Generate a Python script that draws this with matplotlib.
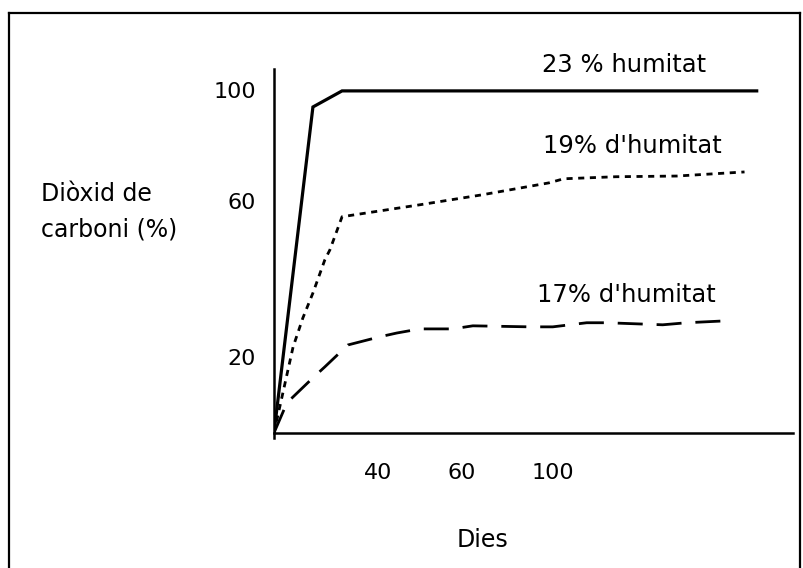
"""Dioxid de carboni vs dies, three humidity curves (hand-drawn style chart)."""
import matplotlib.pyplot as plt
from matplotlib.lines import Line2D

plt.rcParams.update({"font.family": "DejaVu Sans", "font.size": 17})

# ---------------------------------------------------------------------------
# Data (axis units follow the drawing, not a true scale)
# ---------------------------------------------------------------------------
x_23 = [0, 14.7, 25.7, 182.3]
y_23 = [0, 95.3, 100, 100]

x_19 = [0, 7.2, 10.9, 14.7, 19.2, 21.1, 25.7, 37.4, 55.1, 78.5, 103.8,
        109.4, 129.1, 152.1, 177.7]
y_19 = [0, 25.1, 33.6, 40.9, 50.6, 53.5, 63.2, 64.6, 66.7, 69.6, 73.1,
        74.3, 74.9, 75.1, 76.3]

x_17 = [0, 4.9, 14.7, 19.2, 27.9, 40.0, 46.4, 55.1, 67.5, 75.1, 96.6,
        105.3, 118.1, 125.7, 146.8, 155.8, 169.1]
y_17 = [0, 8.8, 16.1, 19.3, 25.7, 28.1, 29.2, 30.4, 30.4, 31.3, 31.0,
        31.0, 32.2, 32.2, 31.6, 32.2, 32.7]

series_labels = ["23 % humitat", "19% d'humitat", "17% d'humitat"]

# tick labels as printed in the figure (positions follow the drawing)
xtick_pos = [39.2, 70.9, 105.3]
xtick_labels = ["40", "60", "100"]
ytick_pos = [100.3, 67.8, 22.2]
ytick_labels = ["100", "60", "20"]

# ---------------------------------------------------------------------------
fig = plt.figure(figsize=(8.04, 5.68), dpi=100)
ax = fig.add_axes([0.3408, 0.2289, 0.6455, 0.6496])

ax.plot(x_23, y_23, color="black", lw=2.3, solid_joinstyle="miter")
ax.plot(x_19, y_19, color="black", lw=2.0, dashes=(2.2, 2.0))
ax.plot(x_17, y_17, color="black", lw=2.0, dashes=(9, 5))

# curve labels
ax.text(132.3, 107.6, series_labels[0], ha="center", va="center",
        fontsize=17.5)
ax.text(135.5, 83.9, series_labels[1], ha="center", va="center",
        fontsize=17.5)
ax.text(133.2, 40.4, series_labels[2], ha="center", va="center",
        fontsize=17.5)

ax.set_xlim(0, 196)
ax.set_ylim(-1.5, 106.4)

for side in ("top", "right"):
    ax.spines[side].set_visible(False)
ax.spines["bottom"].set_position(("data", 0))
for side in ("left", "bottom"):
    ax.spines[side].set_linewidth(1.8)

ax.set_xticks(xtick_pos)
ax.set_xticklabels(xtick_labels)
ax.set_yticks(ytick_pos)
ax.set_yticklabels(ytick_labels)
ax.tick_params(axis="both", labelsize=16)
ax.tick_params(axis="x", length=0, pad=22)
ax.tick_params(axis="y", length=0, pad=13)

# axis titles
fig.text(483 / 804, 1 - 540 / 568, "Dies", ha="center", va="center")
fig.text(41 / 804, 1 - 194 / 568, "Diòxid de", ha="left", va="center")
fig.text(41 / 804, 1 - 230 / 568, "carboni (%)", ha="left", va="center")

# frame around the figure (bottom edge is cut off in the original)
frame_l, frame_r, frame_t = 9 / 804, 800 / 804, 1 - 13 / 568
for xs, ys in [([frame_l, frame_l], [0, frame_t]),
               ([frame_l, frame_r], [frame_t, frame_t]),
               ([frame_r, frame_r], [0, frame_t])]:
    fig.add_artist(Line2D(xs, ys, transform=fig.transFigure,
                          color="black", lw=1.6))

fig.savefig("out.png", dpi=100)
